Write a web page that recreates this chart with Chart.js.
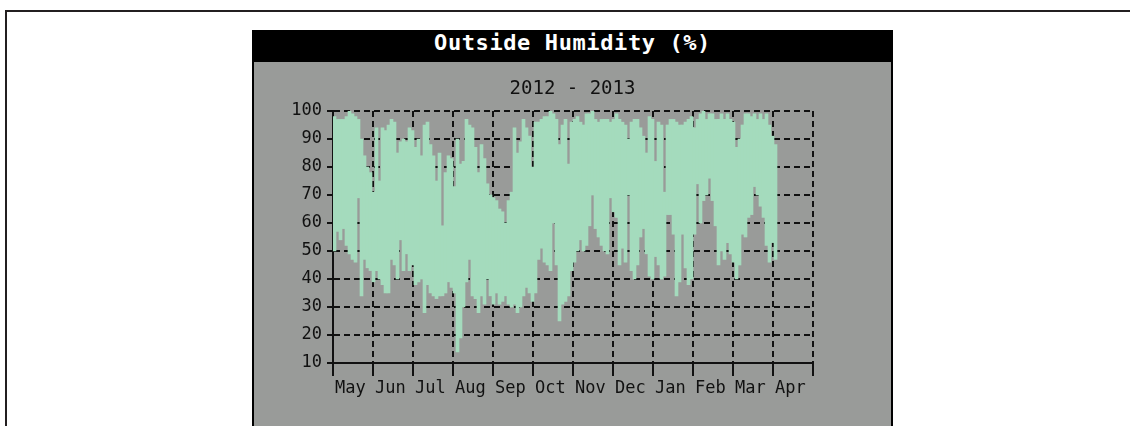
<!DOCTYPE html>
<html>
<head>
<meta charset="utf-8">
<title>Outside Humidity</title>
<script src="https://cdn.jsdelivr.net/npm/chart.js@4.4.1/dist/chart.umd.min.js"></script>
<style>
  body { margin: 0; background: #fff; width: 1130px; height: 426px; overflow: hidden; position: relative; }
  .frame { position: absolute; left: 5px; top: 10px; width: 1200px; height: 500px;
           border-left: 2px solid #231f20; border-top: 2px solid #231f20; }
  .panel { position: absolute; left: 252px; top: 30px; width: 641px; height: 420px; background: #000; }
  .panel h1 { margin: 0; height: 31px; line-height: 34px; text-align: center; color: #fff;
              font: bold 22px "DejaVu Sans Mono", monospace; letter-spacing: 0.6px; }
  .plot { margin: 1px 2px 0; background: #999b99; height: 388px; }
  canvas { display: block; }
</style>
</head>
<body>
<div class="frame"></div>
<div class="panel">
  <h1>Outside Humidity (%)</h1>
  <div class="plot"><canvas id="hum" width="637" height="388"></canvas></div>
</div>
<script>
// month labels, one per tick starting at May 2012
const months = ['May', 'Jun', 'Jul', 'Aug', 'Sep', 'Oct', 'Nov', 'Dec', 'Jan', 'Feb', 'Mar', 'Apr'];
const binWidth = 0.075; // months covered by one min/max bar

// humidity range per bin (%), from 1 May 2012 onwards
const humHigh = [
  98, 97, 97, 97, 98, 100, 99, 98, 97, 90,
  84, 80, 78, 71, 94, 75, 94, 93, 95, 97,
  96, 85, 89, 90, 89, 94, 93, 87, 90, 84,
  95, 96, 88, 84, 75, 85, 59,
  78, 84, 83, 73, 90, 81, 82, 97, 95, 94,
  87, 78, 88, 83, 74, 70, 69, 68, 65, 64,
  60, 68, 71, 94, 85, 89, 97, 94, 91, 80,
  96, 96, 97, 98, 98, 100, 99, 97,
  88, 95, 97, 81, 96, 97, 98, 96, 95, 99,
  99, 100, 97, 96, 97, 97, 97, 96, 97, 99,
  97, 96, 95, 90, 96, 97, 97, 94, 91, 85,
  98, 97, 82, 96, 95, 71, 95,
  97, 97, 96, 95, 95, 96, 97, 98, 94, 97,
  99, 100, 97, 99, 99, 97, 97, 99, 97, 99,
  97, 96, 87, 90, 95, 99, 99, 98, 99, 97,
  99, 97, 99, 95, 91, 88
];
const humLow = [
  50, 57, 54, 58, 52, 49, 47, 46, 69, 34,
  47, 44, 43, 39, 43, 40, 38, 35, 35, 47,
  45, 40, 54, 43, 49, 43, 45, 38, 39, 40,
  28, 38, 35, 34, 33, 34, 34,
  35, 39, 37, 35, 14, 19, 30, 39, 47, 34,
  33, 28, 34, 31, 40, 34, 31, 35, 31, 32,
  34, 31, 30, 31, 28, 30, 34, 37, 35, 32,
  35, 47, 51, 46, 45, 43, 60, 45,
  25, 31, 32, 34, 43, 46, 50, 54, 50, 52,
  59, 70, 58, 55, 52, 50, 49, 69, 64, 62,
  45, 51, 46, 70, 43, 40, 45, 55, 58, 49,
  41, 40, 48, 45, 40, 41, 63,
  63, 56, 34, 39, 56, 44, 38, 40, 56, 74,
  60, 68, 70, 76, 68, 59, 45, 50, 47, 53,
  49, 46, 40, 45, 56, 55, 62, 63, 73, 70,
  66, 62, 52, 46, 53, 47
];

const ranges = humHigh.map((h, i) => ({ x: (i + 0.5) * binWidth, y: [humLow[i], h] }));

const gridDash = [6, 4];

new Chart(document.getElementById('hum'), {
  type: 'bar',
  data: {
    datasets: [{
      label: 'Outside Humidity',
      data: ranges,
      backgroundColor: '#a4dbbd',
      borderWidth: 0,
      barPercentage: 1,
      categoryPercentage: 1
    }]
  },
  options: {
    responsive: false,
    animation: false,
    layout: { padding: 0 },
    plugins: {
      legend: { display: false },
      tooltip: { enabled: false },
      title: {
        display: true,
        text: '2012 - 2013',
        color: '#111',
        font: { family: 'DejaVu Sans Mono', size: 19, weight: 'normal', lineHeight: 1.2 },
        padding: { top: 16, bottom: 10.2 }
      }
    },
    scales: {
      x: {
        type: 'linear',
        min: 0,
        max: 12,
        offset: false,
        afterFit: (s) => { s.height = 87; },
        ticks: {
          stepSize: 1,
          autoSkip: false,
          maxRotation: 0,
          align: 'start',
          labelOffset: 2,
          padding: 2,
          color: '#111',
          font: { family: 'DejaVu Sans Mono', size: 17 },
          callback: (v) => months[v] || ''
        },
        grid: { offset: false, color: '#111', lineWidth: 2, tickLength: 13, tickColor: '#111', tickWidth: 2 },
        border: { color: '#111', width: 2, dash: gridDash }
      },
      y: {
        min: 10,
        max: 100,
        afterFit: (s) => { s.width = 79; },
        ticks: {
          stepSize: 10,
          padding: 5,
          color: '#111',
          font: { family: 'DejaVu Sans Mono', size: 17 }
        },
        grid: { color: '#111', lineWidth: 2, tickLength: 6, tickColor: '#111', tickWidth: 2 },
        border: { color: '#111', width: 2, dash: gridDash }
      },
      // empty right-hand margin so the subtitle stays centred on the panel
      margin: {
        position: 'right',
        display: true,
        afterFit: (s) => { s.width = 78; },
        ticks: { display: false },
        grid: { display: false },
        border: { display: false }
      }
    }
  }
});
</script>
</body>
</html>
